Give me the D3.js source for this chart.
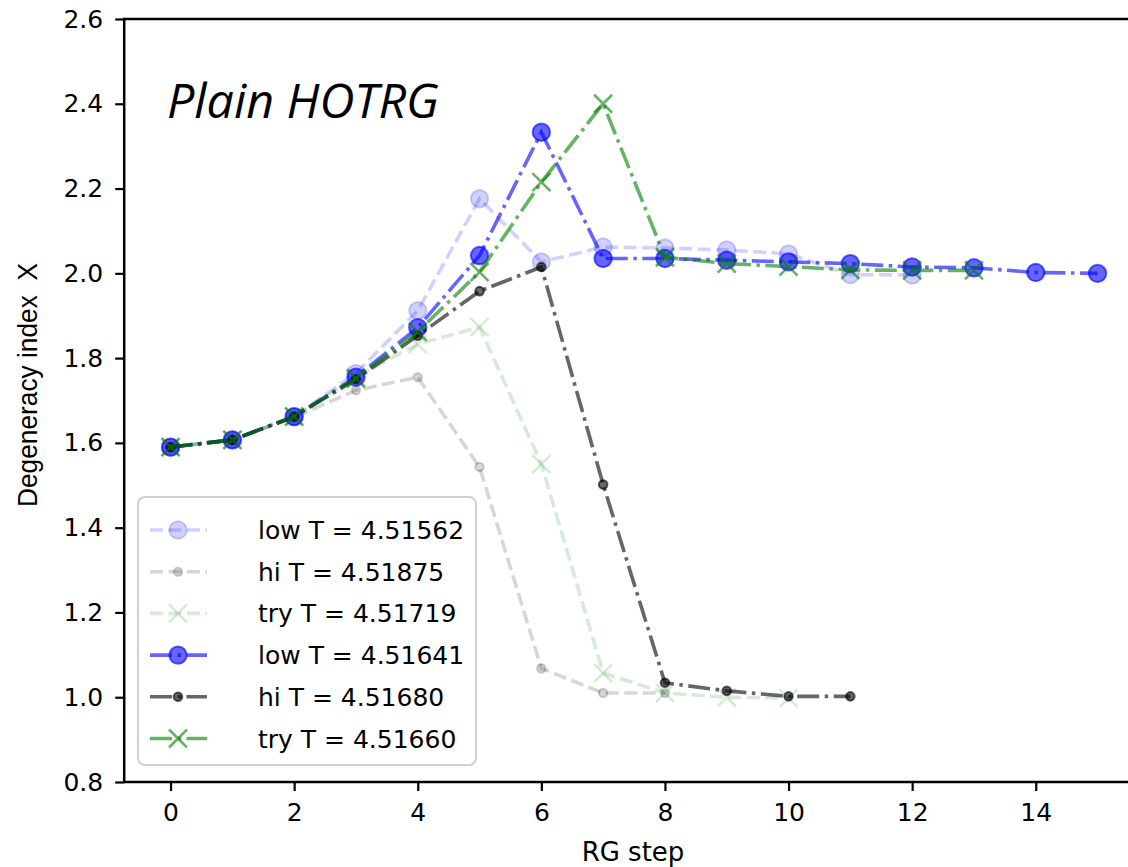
<!DOCTYPE html>
<html>
<head>
<meta charset="utf-8">
<script src="https://cdn.jsdelivr.net/npm/d3@7"></script>
<style>
  body { margin: 0; background: #fff; }
  svg { display: block; }
</style>
</head>
<body>
<script>
// degeneracy index per RG step, six bisection runs
lowA = [1.590, 1.607, 1.662, 1.764, 1.912, 2.176, 2.027, 2.062, 2.060, 2.055, 2.046, 1.997, 1.996];
hiA  = [1.590, 1.607, 1.660, 1.724, 1.755, 1.543, 1.068, 1.010, 1.010];
tryA = [1.590, 1.607, 1.662, 1.755, 1.833, 1.873, 1.550, 1.057, 1.010, 1.000, 0.998];
lowB = [1.590, 1.607, 1.662, 1.755, 1.872, 2.042, 2.333, 2.035, 2.035, 2.031, 2.027, 2.023, 2.015, 2.013, 2.002, 2.000];
hiB  = [1.590, 1.607, 1.662, 1.750, 1.853, 1.958, 2.015, 1.502, 1.034, 1.015, 1.002, 1.002];
tryB = [1.590, 1.607, 1.662, 1.752, 1.862, 2.003, 2.215, 2.400, 2.038, 2.023, 2.016, 2.008, 2.007, 2.007];

labels = ["low T = 4.51562", "hi T = 4.51875", "try T = 4.51719",
          "low T = 4.51641", "hi T = 4.51680", "try T = 4.51660"];
xTicks = [0, 2, 4, 6, 8, 10, 12, 14];
yTicks = [0.8, 1.0, 1.2, 1.4, 1.6, 1.8, 2.0, 2.2, 2.4, 2.6];

width = 1128;
height = 867;

// style of each run: colour, alpha, marker, dash
styles = [
  {c: "0,0,255",   a: 0.18, m: "big",   dash: "13,5.5"},
  {c: "0,0,0",     a: 0.16, m: "small", dash: "13,5.5"},
  {c: "0,128,0",   a: 0.16, m: "x",     dash: "13,5.5"},
  {c: "0,0,255",   a: 0.6,  m: "big",   dash: "22,5.5,3.5,5.5"},
  {c: "0,0,0",     a: 0.6,  m: "small", dash: "22,5.5,3.5,5.5"},
  {c: "0,128,0",   a: 0.6,  m: "x",     dash: "22,5.5,3.5,5.5"}
];
series = [lowA, hiA, tryA, lowB, hiB, tryB];

svg = d3.select("body").append("svg")
  .attr("width", width)
  .attr("height", height);

x = d3.scaleLinear().domain([-0.75, 15.75]).range([124.2, 1143.9]);
y = d3.scaleLinear().domain([0.8, 2.6]).range([782, 19]);

function rgba(s) { return "rgba(" + s.c + "," + s.a + ")"; }

function drawMarker(g, s, cx, cy) {
  if (s.m == "big") {
    g.append("circle").attr("cx", cx).attr("cy", cy).attr("r", 8.7)
      .attr("fill", rgba(s)).attr("stroke", rgba(s)).attr("stroke-width", 2);
  } else if (s.m == "small") {
    g.append("circle").attr("cx", cx).attr("cy", cy).attr("r", 4.3)
      .attr("fill", rgba(s)).attr("stroke", rgba(s)).attr("stroke-width", 2);
  } else {
    var h = 9;
    g.append("path")
      .attr("d", "M" + (cx - h) + "," + (cy - h) + "L" + (cx + h) + "," + (cy + h) +
                 "M" + (cx - h) + "," + (cy + h) + "L" + (cx + h) + "," + (cy - h))
      .attr("fill", "none").attr("stroke", rgba(s)).attr("stroke-width", 2.6);
  }
}

plot = svg.append("g");
line = d3.line().x(function(d, i) { return x(i); }).y(function(d) { return y(d); });

series.forEach(function(vals, k) {
  var s = styles[k];
  var g = plot.append("g");
  g.append("path")
    .attr("d", line(vals))
    .attr("fill", "none")
    .attr("stroke", rgba(s))
    .attr("stroke-width", 3.6)
    .attr("stroke-dasharray", s.dash);
  vals.forEach(function(v, i) { drawMarker(g, s, x(i), y(v)); });
});

// title inside the axes
svg.append("text")
  .attr("x", 167).attr("y", 118)
  .attr("font-family", "Open Sans")
  .attr("font-style", "italic")
  .attr("font-size", 47)
  .attr("textLength", 272)
  .attr("lengthAdjust", "spacingAndGlyphs")
  .text("Plain HOTRG");

// axes
xAxis = svg.append("g").attr("transform", "translate(0,782)")
  .call(d3.axisBottom(x).tickValues(xTicks).tickSize(9).tickSizeOuter(0).tickPadding(12));
yAxis = svg.append("g").attr("transform", "translate(124.2,0)")
  .call(d3.axisLeft(y).tickValues(yTicks).tickFormat(d3.format(".1f")).tickSize(9).tickSizeOuter(0).tickPadding(12));

[xAxis, yAxis].forEach(function(a) {
  a.selectAll("text").attr("font-family", "DejaVu Sans").attr("font-size", 25).attr("fill", "#000");
  a.selectAll("line").attr("stroke", "#000").attr("stroke-width", 2.2);
  a.select(".domain").remove();
});

// spines
svg.append("rect")
  .attr("x", 124.2).attr("y", 19)
  .attr("width", 1143.9 - 124.2).attr("height", 782 - 19)
  .attr("fill", "none").attr("stroke", "#000").attr("stroke-width", 2.5);

svg.append("text")
  .attr("x", 633).attr("y", 861)
  .attr("text-anchor", "middle")
  .attr("font-family", "DejaVu Sans")
  .attr("font-size", 26)
  .text("RG step");

svg.append("text")
  .attr("transform", "translate(37,385) rotate(-90)")
  .attr("text-anchor", "middle")
  .attr("font-family", "Liberation Sans")
  .attr("font-size", 27)
  .attr("textLength", 244)
  .attr("lengthAdjust", "spacingAndGlyphs")
  .style("white-space", "pre")
  .text("Degeneracy index  X");

// legend
legend = svg.append("g");
legend.append("rect")
  .attr("x", 138).attr("y", 497)
  .attr("width", 338).attr("height", 268)
  .attr("rx", 7)
  .attr("fill", "rgba(255,255,255,0.8)")
  .attr("stroke", "#d0d0d0").attr("stroke-width", 2);

labels.forEach(function(lab, k) {
  var s = styles[k];
  var cy = 530 + k * 41.7;
  var row = legend.append("g");
  row.append("line")
    .attr("x1", 150).attr("x2", 207).attr("y1", cy).attr("y2", cy)
    .attr("stroke", rgba(s)).attr("stroke-width", 3.6)
    .attr("stroke-dasharray", s.dash);
  drawMarker(row, s, 178, cy);
  row.append("text")
    .attr("x", 258).attr("y", cy + 9)
    .attr("font-family", "DejaVu Sans")
    .attr("font-size", 25)
    .text(lab);
});
</script>
</body>
</html>
